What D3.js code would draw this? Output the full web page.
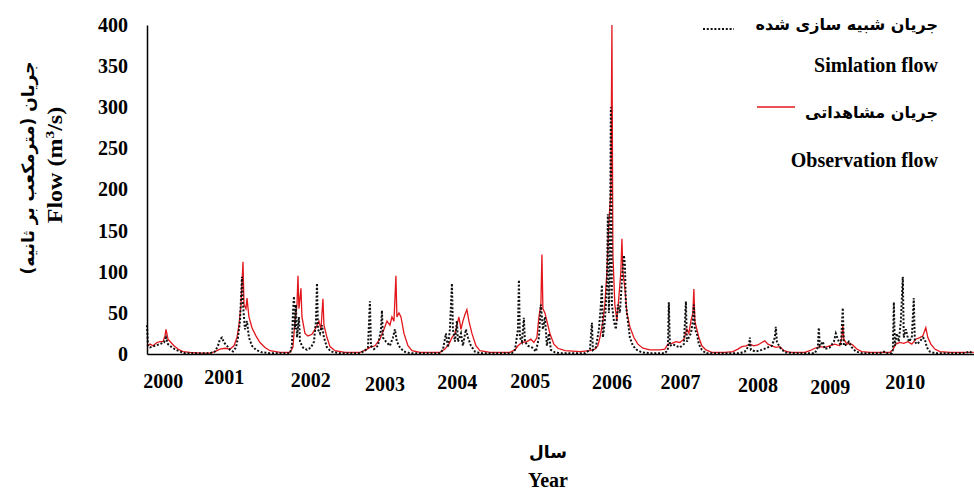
<!DOCTYPE html>
<html lang="fa">
<head>
<meta charset="utf-8">
<title>Flow 2000-2010</title>
<script src="https://d3js.org/d3.v7.min.js"></script>
<style>
  html, body { margin: 0; padding: 0; background: #fff; }
  svg { display: block; }
  .num { font-family: "Liberation Serif", "Times New Roman", serif; font-weight: bold; }
  .fa { font-family: "DejaVu Sans", sans-serif; font-weight: bold; }
</style>
</head>
<body>
<svg width="974" height="493"></svg>
<script>
// year labels and where they sit along the time axis (decimal years)
var yearLabels = ["2000", "2001", "2002", "2003", "2004", "2005", "2006", "2007", "2008", "2009", "2010"];
var yearLabelAt = [2000.21, 2001.02, 2002.17, 2003.16, 2004.12, 2005.09, 2006.18, 2007.09, 2008.12, 2009.08, 2010.08];
var yearLabelDy = [0, -4, -1, 3, 1, 0, 1, 1, 4, 6, 1];

var flowTicks = [0, 50, 100, 150, 200, 250, 300, 350, 400];

// observed flow (m3/s), [decimal year, value]
var observed = [
  [2000.000, 9], [2000.040, 12], [2000.080, 10], [2000.133, 14], [2000.173, 15], [2000.213, 15],
  [2000.239, 22], [2000.253, 30], [2000.279, 18], [2000.319, 14], [2000.359, 10], [2000.412, 6],
  [2000.479, 3], [2000.572, 2], [2000.705, 1], [2000.838, 1], [2000.904, 3], [2000.971, 6],
  [2001.037, 7], [2001.104, 6], [2001.157, 10], [2001.197, 20], [2001.223, 35], [2001.250, 60],
  [2001.277, 112], [2001.290, 60], [2001.316, 55], [2001.330, 68], [2001.356, 45], [2001.396, 32],
  [2001.449, 22], [2001.503, 14], [2001.569, 8], [2001.636, 4], [2001.769, 2], [2001.902, 2],
  [2001.941, 8], [2001.968, 40], [2001.995, 60], [2002.008, 95], [2002.021, 55], [2002.048, 80],
  [2002.061, 45], [2002.101, 25], [2002.141, 22], [2002.194, 24], [2002.234, 30], [2002.261, 35],
  [2002.287, 40], [2002.314, 30], [2002.340, 67], [2002.354, 35], [2002.394, 20], [2002.434, 9],
  [2002.500, 4], [2002.633, 2], [2002.832, 2], [2002.912, 5], [2002.965, 8], [2003.032, 10],
  [2003.098, 18], [2003.152, 30], [2003.192, 40], [2003.231, 35], [2003.258, 45], [2003.285, 40],
  [2003.311, 95], [2003.324, 45], [2003.351, 50], [2003.378, 45], [2003.418, 25], [2003.471, 10],
  [2003.524, 4], [2003.630, 2], [2003.896, 2], [2003.963, 6], [2004.016, 12], [2004.056, 20],
  [2004.096, 25], [2004.122, 35], [2004.149, 45], [2004.176, 30], [2004.202, 40], [2004.229, 48],
  [2004.255, 54], [2004.282, 40], [2004.322, 25], [2004.375, 10], [2004.428, 4], [2004.561, 2],
  [2004.827, 2], [2004.894, 5], [2004.934, 10], [2004.987, 14], [2005.053, 15], [2005.106, 18],
  [2005.146, 14], [2005.186, 20], [2005.213, 45], [2005.239, 60], [2005.253, 121], [2005.266, 55],
  [2005.293, 50], [2005.319, 40], [2005.359, 25], [2005.412, 12], [2005.465, 7], [2005.559, 4],
  [2005.758, 3], [2005.891, 4], [2005.957, 6], [2005.997, 10], [2006.024, 20], [2006.064, 40],
  [2006.090, 60], [2006.117, 100], [2006.144, 160], [2006.170, 200], [2006.184, 400], [2006.197, 120],
  [2006.223, 60], [2006.250, 40], [2006.277, 70], [2006.303, 100], [2006.317, 140], [2006.330, 100],
  [2006.356, 80], [2006.383, 50], [2006.423, 33], [2006.476, 20], [2006.529, 12], [2006.596, 7],
  [2006.689, 5], [2006.822, 5], [2006.888, 6], [2006.928, 12], [2006.981, 13], [2007.035, 15],
  [2007.088, 14], [2007.141, 18], [2007.181, 30], [2007.207, 25], [2007.234, 40], [2007.261, 50],
  [2007.274, 79], [2007.287, 40], [2007.314, 30], [2007.340, 20], [2007.380, 10], [2007.434, 5],
  [2007.513, 2], [2007.686, 2], [2007.793, 3], [2007.859, 6], [2007.912, 9], [2007.966, 10],
  [2008.019, 12], [2008.072, 10], [2008.125, 11], [2008.178, 14], [2008.218, 16], [2008.258, 12],
  [2008.311, 10], [2008.364, 8], [2008.418, 9], [2008.471, 4], [2008.551, 2], [2008.750, 2],
  [2008.816, 4], [2008.883, 7], [2008.949, 9], [2009.016, 8], [2009.082, 10], [2009.149, 12],
  [2009.215, 10], [2009.242, 20], [2009.255, 35], [2009.269, 18], [2009.309, 12], [2009.348, 13],
  [2009.388, 11], [2009.441, 6], [2009.508, 3], [2009.614, 2], [2009.880, 2], [2009.920, 5],
  [2009.960, 12], [2010.013, 14], [2010.066, 13], [2010.120, 15], [2010.173, 12], [2010.226, 18],
  [2010.279, 20], [2010.319, 22], [2010.359, 32], [2010.386, 20], [2010.426, 12], [2010.479, 6],
  [2010.545, 3], [2010.678, 2], [2010.997, 2]
];

// simulated flow (m3/s), [decimal year, value]
var simulated = [
  [2000.000, 35], [2000.013, 10], [2000.040, 8], [2000.106, 10], [2000.173, 12], [2000.226, 14],
  [2000.253, 20], [2000.279, 12], [2000.332, 8], [2000.386, 5], [2000.439, 3], [2000.505, 1],
  [2000.705, 1], [2000.838, 1], [2000.904, 3], [2000.944, 10], [2000.971, 18], [2000.997, 20],
  [2001.024, 14], [2001.064, 10], [2001.104, 5], [2001.144, 3], [2001.184, 8], [2001.210, 20],
  [2001.237, 40], [2001.263, 94], [2001.277, 60], [2001.303, 30], [2001.330, 40], [2001.356, 20],
  [2001.396, 10], [2001.449, 5], [2001.529, 2], [2001.636, 1], [2001.902, 1], [2001.928, 10],
  [2001.941, 50], [2001.955, 70], [2001.968, 30], [2001.981, 60], [2001.995, 20], [2002.021, 45],
  [2002.035, 15], [2002.074, 8], [2002.128, 5], [2002.181, 8], [2002.221, 15], [2002.247, 40],
  [2002.261, 86], [2002.274, 30], [2002.301, 25], [2002.327, 35], [2002.354, 20], [2002.394, 8],
  [2002.447, 3], [2002.567, 1], [2002.832, 1], [2002.899, 4], [2002.939, 8], [2002.965, 64],
  [2002.979, 10], [2003.019, 6], [2003.072, 10], [2003.112, 30], [2003.125, 53], [2003.138, 20],
  [2003.178, 15], [2003.231, 10], [2003.271, 20], [2003.298, 30], [2003.324, 15], [2003.364, 8],
  [2003.418, 3], [2003.497, 1], [2003.896, 1], [2003.936, 5], [2003.976, 25], [2004.003, 8],
  [2004.029, 30], [2004.056, 86], [2004.069, 30], [2004.096, 15], [2004.122, 40], [2004.136, 15],
  [2004.176, 25], [2004.202, 10], [2004.242, 30], [2004.269, 20], [2004.309, 10], [2004.362, 3],
  [2004.428, 1], [2004.854, 1], [2004.894, 5], [2004.934, 30], [2004.947, 90], [2004.960, 20],
  [2004.987, 15], [2005.013, 44], [2005.027, 15], [2005.066, 10], [2005.120, 8], [2005.173, 3],
  [2005.213, 20], [2005.239, 60], [2005.266, 30], [2005.293, 45], [2005.319, 10], [2005.346, 25],
  [2005.372, 5], [2005.426, 2], [2005.492, 1], [2005.824, 1], [2005.891, 5], [2005.918, 38],
  [2005.931, 5], [2005.971, 8], [2006.011, 30], [2006.037, 60], [2006.051, 84], [2006.064, 20],
  [2006.090, 40], [2006.117, 80], [2006.130, 170], [2006.144, 50], [2006.157, 100], [2006.170, 300],
  [2006.184, 60], [2006.210, 40], [2006.237, 30], [2006.263, 60], [2006.290, 50], [2006.317, 90],
  [2006.343, 120], [2006.356, 110], [2006.370, 60], [2006.396, 40], [2006.423, 20], [2006.463, 10],
  [2006.516, 5], [2006.582, 2], [2006.689, 1], [2006.888, 1], [2006.928, 5], [2006.941, 63],
  [2006.955, 10], [2006.995, 12], [2007.035, 10], [2007.088, 8], [2007.141, 12], [2007.168, 64],
  [2007.181, 15], [2007.207, 20], [2007.234, 25], [2007.261, 40], [2007.274, 60], [2007.287, 30],
  [2007.314, 25], [2007.340, 12], [2007.380, 5], [2007.434, 1], [2007.620, 1], [2007.886, 1],
  [2007.952, 3], [2008.005, 10], [2008.019, 20], [2008.032, 5], [2008.098, 3], [2008.178, 5],
  [2008.258, 8], [2008.311, 10], [2008.351, 20], [2008.364, 33], [2008.378, 15], [2008.418, 8],
  [2008.484, 2], [2008.617, 1], [2008.883, 1], [2008.923, 8], [2008.936, 32], [2008.949, 10],
  [2008.989, 15], [2009.016, 6], [2009.082, 8], [2009.136, 15], [2009.162, 25], [2009.189, 18],
  [2009.229, 10], [2009.255, 56], [2009.269, 10], [2009.309, 12], [2009.335, 15], [2009.375, 8],
  [2009.428, 3], [2009.508, 1], [2009.747, 1], [2009.800, 3], [2009.827, 1], [2009.907, 1],
  [2009.920, 5], [2009.934, 63], [2009.947, 10], [2009.973, 25], [2010.000, 15], [2010.027, 40],
  [2010.053, 94], [2010.066, 20], [2010.093, 30], [2010.133, 15], [2010.173, 20], [2010.199, 68],
  [2010.213, 15], [2010.239, 12], [2010.279, 15], [2010.319, 20], [2010.346, 18], [2010.373, 8],
  [2010.412, 3], [2010.479, 1], [2010.878, 1], [2010.944, 3], [2010.971, 1]
];

var svg = d3.select("svg");
var margin = {top: 25, right: 0, bottom: 139, left: 147};
var width = 974 - margin.left - margin.right;
var height = 493 - margin.top - margin.bottom;

var g = svg.append("g")
    .attr("transform", "translate(" + margin.left + "," + margin.top + ")");

var x = d3.scaleLinear().domain([2000, 2011]).range([0, width]);
var y = d3.scaleLinear().domain([0, 400]).range([height, 0]);

var line = d3.line()
    .x(function(d) { return x(d[0]); })
    .y(function(d) { return y(d[1]); });

// observed (red) under the dotted simulated series
g.append("path")
    .datum(observed)
    .attr("fill", "none")
    .attr("stroke", "#e3161b")
    .attr("stroke-width", 1.3)
    .attr("d", line);

g.append("path")
    .datum(simulated)
    .attr("fill", "none")
    .attr("stroke", "#111")
    .attr("stroke-width", 2)
    .attr("stroke-dasharray", "2,1.8")
    .attr("d", line);

// y axis
var yAxis = g.append("g")
    .attr("class", "num")
    .call(d3.axisLeft(y).tickValues(flowTicks).tickSize(0).tickPadding(19));
yAxis.select(".domain").attr("stroke", "#000").attr("stroke-width", 1.5);
yAxis.selectAll("text").attr("font-size", 20).attr("fill", "#000")
    .attr("font-family", "Liberation Serif, serif").attr("font-weight", "bold");

// x axis with hand placed year labels
var xAxis = g.append("g")
    .attr("transform", "translate(0," + height + ")")
    .call(d3.axisBottom(x).tickValues(yearLabelAt).tickSize(0).tickPadding(20)
        .tickFormat(function(d, i) { return yearLabels[i]; }));
xAxis.select(".domain").attr("stroke", "#000").attr("stroke-width", 1.5);
xAxis.selectAll("text")
    .attr("font-size", 20).attr("fill", "#000")
    .attr("font-family", "Liberation Serif, serif").attr("font-weight", "bold")
    .attr("transform", function(d, i) { return "translate(0," + yearLabelDy[i] + ")"; });

// axis titles
svg.append("text")
    .attr("class", "num")
    .attr("transform", "translate(62,165) rotate(-90) scale(1.2,1)")
    .attr("text-anchor", "middle")
    .attr("font-size", 20)
    .html('Flow (m<tspan font-size="13" dy="-8">3</tspan><tspan dy="8">/s)</tspan>');

svg.append("text")
    .attr("class", "fa")
    .attr("transform", "translate(34,168) rotate(-90)")
    .attr("text-anchor", "middle")
    .attr("font-size", 17)
    .attr("font-weight", "normal")
    .text("جریان (مترمکعب بر ثانیه)");

svg.append("text")
    .attr("class", "fa")
    .attr("x", 548).attr("y", 458)
    .attr("text-anchor", "middle")
    .attr("font-size", 17)
    .text("سال");

svg.append("text")
    .attr("class", "num")
    .attr("x", 548).attr("y", 487)
    .attr("text-anchor", "middle")
    .attr("font-size", 20)
    .text("Year");

// legend
var lg = svg.append("g");
lg.append("text").attr("class", "fa").attr("x", 938).attr("y", 30)
    .attr("text-anchor", "end").attr("font-size", 16).text("جریان شبیه سازی شده");
lg.append("line").attr("x1", 703).attr("x2", 734).attr("y1", 29).attr("y2", 29)
    .attr("stroke", "#111").attr("stroke-width", 2).attr("stroke-dasharray", "2,1.8");
lg.append("text").attr("class", "num").attr("x", 938).attr("y", 72)
    .attr("text-anchor", "end").attr("font-size", 20).text("Simlation flow");
lg.append("text").attr("class", "fa").attr("x", 938).attr("y", 118)
    .attr("text-anchor", "end").attr("font-size", 16).text("جریان مشاهداتی");
lg.append("line").attr("x1", 757).attr("x2", 795).attr("y1", 107).attr("y2", 107)
    .attr("stroke", "#e3161b").attr("stroke-width", 1.3);
lg.append("text").attr("class", "num").attr("x", 938).attr("y", 167)
    .attr("text-anchor", "end").attr("font-size", 20).text("Observation flow");
</script>
</body>
</html>
